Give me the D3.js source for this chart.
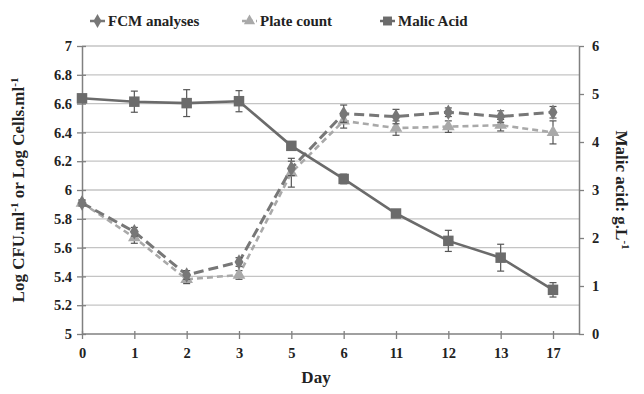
<!DOCTYPE html>
<html><head><meta charset="utf-8">
<script src="https://cdn.jsdelivr.net/npm/d3@7/dist/d3.min.js"></script>
<style>body{margin:0;background:#fff}svg{display:block}
svg text{font-family:"Liberation Serif",serif !important}</style>
</head><body><svg id="c" width="644" height="394"></svg>
<script>
const days = ["0","1","2","3","5","6","11","12","13","17"];
const fcm = [5.91,5.71,5.41,5.50,6.15,6.53,6.51,6.54,6.51,6.54];
const fcmErr = [0.02,0.03,0.03,0.03,0.05,0.06,0.05,0.03,0.04,0.04];
const plate = [5.91,5.67,5.38,5.41,6.12,6.48,6.43,6.44,6.45,6.40];
const plateErr = [0.02,0.04,0.03,0.03,0.10,0.05,0.05,0.04,0.04,0.08];
const malic = [4.91,4.84,4.81,4.85,3.92,3.23,2.51,1.94,1.59,0.92];
const malicErr = [0.05,0.22,0.28,0.22,0.08,0.10,0.05,0.22,0.28,0.15];
const leftTicks = [5,5.2,5.4,5.6,5.8,6,6.2,6.4,6.6,6.8,7];
const rightTicks = [0,1,2,3,4,5,6];

const svg = d3.select("#c");
const L=82, R=579, T=46, B=334;
const x = d3.scalePoint().domain(days).range([L, 553]);
const yL = d3.scaleLinear().domain([5,7]).range([B,T]);
const yR = d3.scaleLinear().domain([0,6]).range([B,T]);

// grid
svg.append("g").selectAll("line").data(leftTicks.slice(1)).join("line")
  .attr("x1",L).attr("x2",R).attr("y1",d=>yL(d)).attr("y2",d=>yL(d))
  .attr("stroke","#c4c4c4").attr("stroke-width",1.3);

const axisCol="#808080";
// left axis
const gl = svg.append("g").attr("transform",`translate(${L},0)`)
  .call(d3.axisLeft(yL).tickValues(leftTicks).tickFormat(d=>String(+d.toFixed(1))).tickSize(5).tickSizeOuter(0));
gl.select(".domain").attr("stroke",axisCol).attr("stroke-width",1.5);
gl.selectAll(".tick line").attr("stroke",axisCol).attr("stroke-width",1.3).attr("x2",-5).attr("x1",4);
gl.selectAll(".tick text").attr("x",-10).attr("font-size",14.5).attr("font-weight","bold").attr("fill","#222");

// right axis
const gr = svg.append("g").attr("transform",`translate(${R},0)`)
  .call(d3.axisRight(yR).tickValues(rightTicks).tickFormat(d3.format("d")).tickSize(5).tickSizeOuter(0));
gr.select(".domain").attr("stroke",axisCol).attr("stroke-width",1.5);
gr.selectAll(".tick line").attr("stroke",axisCol).attr("stroke-width",1.3);
gr.selectAll(".tick text").attr("x",13).attr("font-size",14.5).attr("font-weight","bold").attr("fill","#222");

// bottom axis
const gb = svg.append("g").attr("transform",`translate(0,${B})`)
  .call(d3.axisBottom(x).tickSize(5).tickSizeOuter(0));
gb.select(".domain").remove();
gb.append("line").attr("x1",L).attr("x2",R).attr("stroke",axisCol).attr("stroke-width",1.5);
gb.selectAll(".tick line").attr("stroke",axisCol).attr("stroke-width",1.3).attr("y1",-3).attr("y2",5);
gb.selectAll(".tick text").attr("y",14).attr("font-size",14.5).attr("font-weight","bold").attr("fill","#222");

// titles
svg.append("text").attr("transform","translate(24,190) rotate(-90)").attr("text-anchor","middle")
  .attr("font-size",17).attr("font-weight","bold").attr("fill","#222")
  .html('Log CFU.ml<tspan dy="-6" font-size="11">-1</tspan><tspan dy="6"> or Log Cells.ml</tspan><tspan dy="-6" font-size="11">-1</tspan>');
svg.append("text").attr("transform","translate(616,190) rotate(90)").attr("text-anchor","middle")
  .attr("font-size",17).attr("font-weight","bold").attr("fill","#222")
  .html('Malic acid: g.L<tspan dy="-6" font-size="11">-1</tspan>');
svg.append("text").attr("x",316).attr("y",383).attr("text-anchor","middle")
  .attr("font-size",17).attr("font-weight","bold").attr("fill","#222").text("Day");

// series
const series = [
  {name:"Plate count", vals:plate, err:plateErr, y:yL, col:"#a9a9a9", dash:"6,4", w:2.6, shape:d3.symbolTriangle, size:70},
  {name:"FCM analyses", vals:fcm, err:fcmErr, y:yL, col:"#777777", dash:"10,5", w:3, shape:d3.symbolDiamond, size:70},
  {name:"Malic Acid", vals:malic, err:malicErr, y:yR, col:"#6b6b6b", dash:null, w:2.6, shape:d3.symbolSquare, size:110},
];
series.forEach(s=>{
  const g = svg.append("g");
  const data = days.map((d,i)=>({d, v:s.vals[i], e:s.err[i]}));
  g.append("path").datum(data).attr("fill","none").attr("stroke",s.col).attr("stroke-width",s.w)
    .attr("stroke-dasharray",s.dash).attr("d",d3.line().x(p=>x(p.d)).y(p=>s.y(p.v)));
  const eb = g.selectAll(".eb").data(data).join("g");
  eb.append("line").attr("x1",p=>x(p.d)).attr("x2",p=>x(p.d)).attr("y1",p=>s.y(p.v-p.e)).attr("y2",p=>s.y(p.v+p.e))
    .attr("stroke","#555").attr("stroke-width",1.2);
  eb.append("line").attr("x1",p=>x(p.d)-3.5).attr("x2",p=>x(p.d)+3.5).attr("y1",p=>s.y(p.v-p.e)).attr("y2",p=>s.y(p.v-p.e)).attr("stroke","#555").attr("stroke-width",1.2);
  eb.append("line").attr("x1",p=>x(p.d)-3.5).attr("x2",p=>x(p.d)+3.5).attr("y1",p=>s.y(p.v+p.e)).attr("y2",p=>s.y(p.v+p.e)).attr("stroke","#555").attr("stroke-width",1.2);
  g.selectAll(".m").data(data).join("path").attr("transform",p=>`translate(${x(p.d)},${s.y(p.v)})`)
    .attr("d",d3.symbol().type(s.shape).size(s.size)).attr("fill",s.col);
});

// legend
const legend = [
  {name:"FCM analyses", col:"#777777", dash:"6,3", shape:d3.symbolDiamond, size:55, x:90, tx:108},
  {name:"Plate count", col:"#a9a9a9", dash:"4,3", shape:d3.symbolTriangle, size:55, x:242, tx:260},
  {name:"Malic Acid", col:"#6b6b6b", dash:null, shape:d3.symbolSquare, size:80, x:380, tx:398},
];
const lg = svg.append("g");
legend.forEach(l=>{
  lg.append("line").attr("x1",l.x).attr("x2",l.x+15).attr("y1",21).attr("y2",21)
    .attr("stroke",l.col).attr("stroke-width",2.5).attr("stroke-dasharray",l.dash);
  lg.append("path").attr("transform",`translate(${l.x+7.5},21)`).attr("d",d3.symbol().type(l.shape).size(l.size)).attr("fill",l.col);
  lg.append("text").attr("x",l.tx).attr("y",26).attr("font-size",15).attr("font-weight","bold").attr("fill","#222").text(l.name);
});
</script></body></html>
